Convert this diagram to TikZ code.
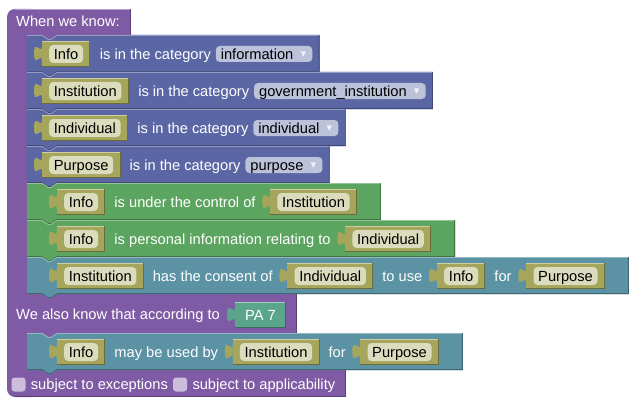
\documentclass[tikz,border=0pt]{standalone}
\usepackage{fontspec}
\setmainfont{Liberation Sans}
\newfontfamily\symf{DejaVu Sans}
\usetikzlibrary{calc}

\definecolor{purC}{HTML}{805BA5}
\definecolor{bluC}{HTML}{5B67A5}
\definecolor{grnC}{HTML}{5BA560}
\definecolor{tealC}{HTML}{5B93A5}
\definecolor{paC}{HTML}{5BA58D}
\definecolor{olvC}{HTML}{A5A55B}
\definecolor{olvF}{HTML}{DBDBBD}
\definecolor{bluF}{HTML}{BDC2DB}
\definecolor{purF}{HTML}{CCBDDB}

\pgfdeclarelayer{cblock}
\pgfdeclarelayer{sblock}
\pgfdeclarelayer{vblock}
\pgfsetlayers{cblock,sblock,vblock,main}

\newcommand\blkfont{\fontsize{14.67}{17}\selectfont}

\tikzset{
  lbl/.style={text=white, inner sep=0pt, anchor=west, font=\blkfont,
    text height=10.5pt, text depth=0pt},
  fld/.style={fill=olvF, rounded corners=4pt, inner xsep=4.7pt, inner ysep=0pt,
    minimum height=18pt, anchor=west, font=\blkfont, text height=10.5pt,
    text depth=0pt, text=black},
  ddf/.style={fld, fill=bluF, minimum height=16pt, inner xsep=5pt},
  cbox/.style={fill=purF, rounded corners=3pt, minimum size=14pt, inner sep=0pt},
  pab/.style={fill=paC, text=white, inner xsep=10pt, inner ysep=0pt,
    minimum height=26pt, anchor=west, font=\blkfont, text height=10.5pt,
    text depth=0pt},
  hl/.style={line width=0.8pt},
}

% jigsaw output tab, left of the point #1 (vertical centre of a value block)
\newcommand\jigtab[2]{%
  \fill[#2] ($#1+(0,-8)$) .. controls ($#1+(0,2)$) and ($#1+(-8,-16)$)
    .. ($#1+(-8,-0.5)$) .. controls ($#1+(-8,15)$) and ($#1+(0,-3)$)
    .. ($#1+(0,7)$) -- cycle;}

% value block: #1 name, #2 left-centre point of the body, #3 text
\newcommand\valblk[3]{%
  \path #2 coordinate (#1-l);
  \node[fld] (#1) at ($(#1-l)+(7,0)$) {#3};
  \begin{pgfonlayer}{vblock}
    \fill[olvC] ($(#1-l)+(0,-13)$) rectangle ($(#1.east)+(7,13)$);
    \jigtab{(#1-l)}{olvC}
    \draw[hl, olvC!55!white] ($(#1-l)+(0,-12.6)$) -- ($(#1.east)+(6.6,-12.6)$);
    \draw[hl, olvC!65!black] ($(#1.east)+(6.6,-12.6)$) -- ($(#1.east)+(6.6,12.6)$)
      -- ($(#1-l)+(0,12.6)$);
  \end{pgfonlayer}}

% dropdown field: #1 name, #2 left-centre point, #3 text
\newcommand\ddfield[3]{%
  \node[ddf] (#1) at #2 {#3\hspace{6pt}\makebox[8pt]{\raisebox{1.5pt}{\symf\fontsize{11}{11}\selectfont\color{white!92!bluC}▾}}};}

% statement block: #1 colour, #2 top, #3 bottom, #4 right-edge coordinate
\newcommand\stmtblk[4]{%
  \fill[#1] (27,#2) -- (42,#2) -- (48,#2+4) -- (51,#2+4) -- (57,#2)
    -- (#4 |- 0,#2) -- (#4 |- 0,#3) -- (57,#3) -- (51,#3+4) -- (48,#3+4)
    -- (42,#3) -- (27,#3) -- cycle;
  \draw[hl, #1!65!white] (27,#2+0.4) -- (42,#2+0.4) -- (48,#2+4.4) -- (51,#2+4.4)
    -- (57,#2+0.4) -- ($(#4 |- 0,#2)+(-0.4,0.4)$);
  \draw[hl, #1!70!black] ($(#4 |- 0,#2)+(-0.4,0.4)$) -- ($(#4 |- 0,#3)+(-0.4,-0.4)$)
    -- (57,#3-0.4) -- (51,#3+3.6) -- (48,#3+3.6) -- (42,#3-0.4) -- (27,#3-0.4);}

\begin{document}
\begin{tikzpicture}[x=1pt,y=-1pt]
\useasboundingbox (0,0) rectangle (640,404);

% header
\node[lbl] (hdr) at (16,21.5) {When we know:};
\coordinate (hR) at ($(hdr.east)+(10.5,0)$);

% category statements
\valblk{b1v}{(42,54)}{Info}
\node[lbl] (b1t) at ($(b1v.east)+(16.5,0)$) {is in the category};
\ddfield{b1d}{($(b1t.east)+(4.5,0)$)}{information}
\coordinate (r1) at ($(b1d.east)+(7,0)$);

\valblk{b2v}{(42,91)}{Institution}
\node[lbl] (b2t) at ($(b2v.east)+(16.5,0)$) {is in the category};
\ddfield{b2d}{($(b2t.east)+(4.5,0)$)}{government\_institution}
\coordinate (r2) at ($(b2d.east)+(7,0)$);

\valblk{b3v}{(42,128)}{Individual}
\node[lbl] (b3t) at ($(b3v.east)+(16.5,0)$) {is in the category};
\ddfield{b3d}{($(b3t.east)+(4.5,0)$)}{individual}
\coordinate (r3) at ($(b3d.east)+(7,0)$);

\valblk{b4v}{(42,165)}{Purpose}
\node[lbl] (b4t) at ($(b4v.east)+(16,0)$) {is in the category};
\ddfield{b4d}{($(b4t.east)+(4.5,0)$)}{purpose}
\coordinate (r4) at ($(b4d.east)+(7,0)$);

% relation statements
\valblk{g1a}{(57,202)}{Info}
\node[lbl] (g1t) at ($(g1a.east)+(16,0)$) {is under the control of};
\valblk{g1b}{($(g1t.east)+(14.5,0)$)}{Institution}
\coordinate (r5) at ($(g1b.east)+(31,0)$);

\valblk{g2a}{(57,239)}{Info}
\node[lbl] (g2t) at ($(g2a.east)+(16,0)$) {is personal information relating to};
\valblk{g2b}{($(g2t.east)+(14.5,0)$)}{Individual}
\coordinate (r6) at ($(g2b.east)+(31,0)$);

\valblk{t1a}{(57,276)}{Institution}
\node[lbl] (t1t) at ($(t1a.east)+(16,0)$) {has the consent of};
\valblk{t1b}{($(t1t.east)+(14.5,0)$)}{Individual}
\node[lbl] (t1u) at ($(t1b.east)+(16,0)$) {to use};
\valblk{t1c}{($(t1u.east)+(14.5,0)$)}{Info}
\node[lbl] (t1f) at ($(t1c.east)+(16,0)$) {for};
\valblk{t1d}{($(t1f.east)+(14.5,0)$)}{Purpose}
\coordinate (r7) at ($(t1d.east)+(31,0)$);

% middle row
\node[lbl] (mt) at (16,314) {We also know that according to};
\node[pab] (pa7) at ($(mt.east)+(15,1)$) {PA 7};
\begin{pgfonlayer}{vblock}
  \jigtab{(pa7.west)}{paC}
\end{pgfonlayer}
\draw[hl, paC!55!white] ($(pa7.north west)+(0,0.4)$) -- ($(pa7.north east)+(-0.4,0.4)$);
\draw[hl, paC!65!black] ($(pa7.north east)+(-0.4,0.4)$) -- ($(pa7.south east)+(-0.4,-0.4)$)
  -- ($(pa7.south west)+(0,-0.4)$);
\coordinate (mR) at ($(pa7.east)+(11,0)$);

\valblk{t2a}{(57,352)}{Info}
\node[lbl] (t2t) at ($(t2a.east)+(16,0)$) {may be used by};
\valblk{t2b}{($(t2t.east)+(14.5,0)$)}{Institution}
\node[lbl] (t2f) at ($(t2b.east)+(16,0)$) {for};
\valblk{t2c}{($(t2f.east)+(14.5,0)$)}{Purpose}
\coordinate (r8) at ($(t2c.east)+(31,0)$);

% bottom row
\node[cbox] (cb1) at (18.5,384.5) {};
\node[lbl] (bt1) at ($(cb1.east)+(5,0)$) {subject to exceptions};
\node[cbox] (cb2) at ($(bt1.east)+(12,0)$) {};
\node[lbl] (bt2) at ($(cb2.east)+(5,0)$) {subject to applicability};
\coordinate (bR) at ($(bt2.east)+(10,0)$);

% statement blocks
\begin{pgfonlayer}{sblock}
  \stmtblk{bluC}{35}{72}{r1}
  \stmtblk{bluC}{72}{109}{r2}
  \stmtblk{bluC}{109}{146}{r3}
  \stmtblk{bluC}{146}{183}{r4}
  \stmtblk{grnC}{183}{220}{r5}
  \stmtblk{grnC}{220}{257}{r6}
  \stmtblk{tealC}{257}{294}{r7}
  \stmtblk{tealC}{333}{370}{r8}
\end{pgfonlayer}

% enclosing rule block
\begin{pgfonlayer}{cblock}
  \fill[purC, rounded corners=8pt] (7,9) rectangle (40,397);
  \fill[purC] (20,9) rectangle (hR |- 0,35);
  \fill[purC] (42,35) -- (48,39) -- (51,39) -- (57,35) -- cycle;
  \fill[purC] (20,294) rectangle (mR |- 0,333);
  \fill[purC] (42,333) -- (48,337) -- (51,337) -- (57,333) -- cycle;
  \fill[purC] (20,370) rectangle (bR |- 0,397);
  \draw[hl, purC!60!white] (15,9.4) -- ($(hR |- 0,9)+(-0.4,0.4)$);
  \draw[hl, purC!70!black] ($(hR |- 0,9)+(-0.4,0.4)$) -- ($(hR |- 0,35)+(-0.4,0)$);
  \draw[hl, purC!70!black] ($(mR |- 0,294)+(-0.4,0)$) -- ($(mR |- 0,333)+(-0.4,0)$);
  \draw[hl, purC!70!black] ($(bR |- 0,370)+(-0.4,0)$) -- ($(bR |- 0,397)+(-0.4,-0.4)$)
    -- (15,396.6);
\end{pgfonlayer}
\end{tikzpicture}
\end{document}
